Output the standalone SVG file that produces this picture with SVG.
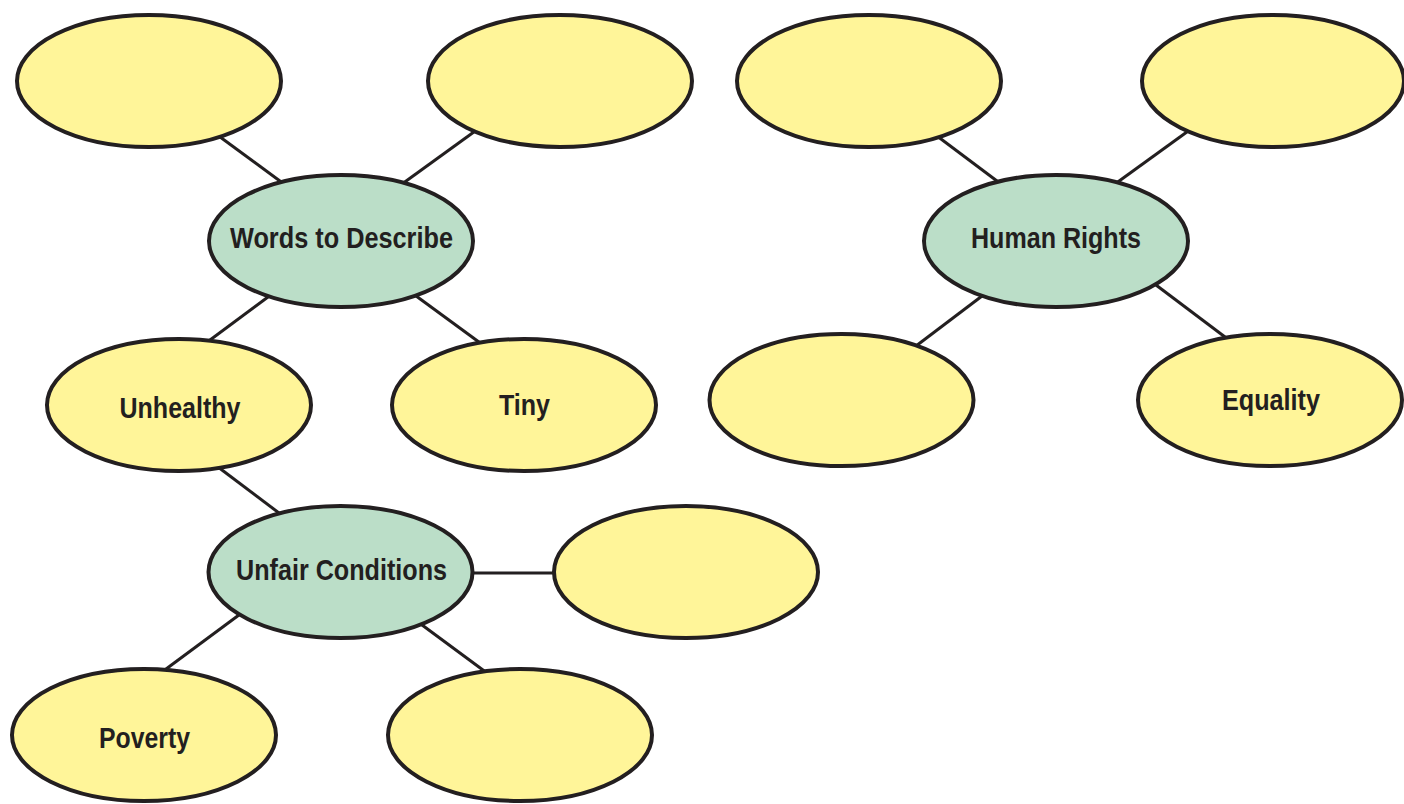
<svg xmlns="http://www.w3.org/2000/svg" width="1404" height="804" viewBox="0 0 1404 804">
<style>
.y{fill:#FFF599;stroke:#231F20;stroke-width:4}
.g{fill:#BBDEC8;stroke:#231F20;stroke-width:4}
.c line{stroke:#231F20;stroke-width:3}
text{font-family:"Liberation Sans",Arial,sans-serif;font-weight:bold;font-size:30px;fill:#231F20;text-anchor:middle}
</style>
<rect width="1404" height="804" fill="#fff"/>
<g class="c" id="connectors">
<line x1="216" y1="134" x2="284" y2="184"/>
<line x1="478" y1="129" x2="402" y2="184"/>
<line x1="272" y1="294" x2="206" y2="343"/>
<line x1="412" y1="293" x2="483" y2="345"/>
<line x1="218" y1="467" x2="283" y2="516"/>
<line x1="470" y1="573" x2="556" y2="573"/>
<line x1="243" y1="612" x2="162" y2="672"/>
<line x1="418" y1="622" x2="487" y2="673"/>
<line x1="937" y1="136" x2="1001" y2="184"/>
<line x1="1191" y1="129" x2="1115" y2="184"/>
<line x1="986" y1="293" x2="912" y2="349"/>
<line x1="1152" y1="282" x2="1229" y2="340"/>
</g>
<g id="n1"><ellipse class="y" cx="149" cy="81" rx="132" ry="66"/></g>
<g id="n2"><ellipse class="y" cx="560" cy="81" rx="132" ry="66"/></g>
<g id="words"><ellipse class="g" cx="341" cy="241" rx="132" ry="66"/><text x="341.5" y="248" textLength="223" lengthAdjust="spacingAndGlyphs">Words to Describe</text></g>
<g id="unhealthy"><ellipse class="y" cx="179" cy="405" rx="132" ry="66"/><text x="180" y="418" textLength="121" lengthAdjust="spacingAndGlyphs">Unhealthy</text></g>
<g id="tiny"><ellipse class="y" cx="524" cy="405" rx="132" ry="66"/><text x="524.5" y="415" textLength="51" lengthAdjust="spacingAndGlyphs">Tiny</text></g>
<g id="unfair"><ellipse class="g" cx="340.5" cy="572" rx="132" ry="66"/><text x="341.5" y="580" textLength="211" lengthAdjust="spacingAndGlyphs">Unfair Conditions</text></g>
<g id="n7"><ellipse class="y" cx="686" cy="572" rx="132" ry="66"/></g>
<g id="poverty"><ellipse class="y" cx="144" cy="735" rx="132" ry="66"/><text x="144.5" y="748" textLength="91" lengthAdjust="spacingAndGlyphs">Poverty</text></g>
<g id="n9"><ellipse class="y" cx="520" cy="735" rx="132" ry="66"/></g>
<g id="n10"><ellipse class="y" cx="869" cy="81" rx="132" ry="66"/></g>
<g id="n11"><ellipse class="y" cx="1273" cy="81" rx="131" ry="66"/></g>
<g id="human"><ellipse class="g" cx="1056" cy="241" rx="132" ry="66"/><text x="1056" y="248" textLength="170" lengthAdjust="spacingAndGlyphs">Human Rights</text></g>
<g id="n13"><ellipse class="y" cx="841.5" cy="400" rx="132" ry="66"/></g>
<g id="equality"><ellipse class="y" cx="1270" cy="400" rx="132" ry="66"/><text x="1271" y="410" textLength="98" lengthAdjust="spacingAndGlyphs">Equality</text></g>
</svg>
